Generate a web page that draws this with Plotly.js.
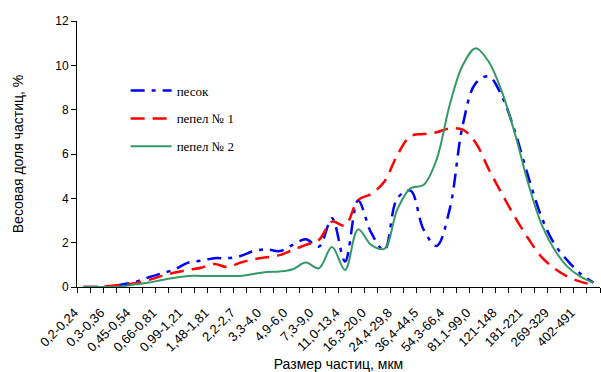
<!DOCTYPE html>
<html>
<head>
<meta charset="utf-8">
<script src="https://cdn.plot.ly/plotly-3.0.1.min.js"></script>
<style>html,body{margin:0;padding:0;background:#fff;}#chart{width:601px;height:372px;}</style>
</head>
<body>
<div id="chart"></div>
<script>
// size fractions, µm (40 categories)
const categories = [
  "0,2-0,24","0,24-0,3","0,3-0,36","0,36-0,45","0,45-0,54","0,54-0,66","0,66-0,81","0,81-0,99",
  "0,99-1,21","1,21-1,48","1,48-1,81","1,81-2,2","2,2-2,7","2,7-3,3","3,3-4,0","4,0-4,9",
  "4,9-6,0","6,0-7,3","7,3-9,0","9,0-11,0","11,0-13,4","13,4-16,3","16,3-20,0","20,0-24,4",
  "24,4-29,8","29,8-36,4","36,4-44,5","44,5-54,3","54,3-66,4","66,4-81,1","81,1-99,0","99-121",
  "121-148","148-181","181-221","221-269","269-329","329-402","402-491","491-600"
];
// weight fraction of particles, %
const sand = [0,0,0.03,0.12,0.24,0.44,0.62,0.8,1.1,1.19,1.3,1.3,1.4,1.62,1.7,1.62,1.9,2.15,1.82,3.1,
  1.15,3.9,2.45,1.65,4.0,4.35,2.6,1.85,3.5,7.3,9.2,9.5,8.6,7.0,5.0,3.2,1.95,1.2,0.6,0.2];
const ash1 = [0,0,0.05,0.1,0.18,0.32,0.5,0.65,0.77,0.87,1.04,0.9,1.1,1.25,1.34,1.44,1.67,1.9,2.12,2.95,
  2.78,3.92,4.2,4.75,5.95,6.8,6.9,6.98,7.15,7.1,6.5,5.3,4.2,3.15,2.2,1.37,0.84,0.47,0.24,0.09];
const ash2 = [0,0,0,0.03,0.12,0.2,0.32,0.42,0.5,0.5,0.5,0.5,0.5,0.59,0.68,0.7,0.8,1.1,0.84,1.8,
  0.77,2.6,1.9,1.72,3.5,4.45,4.6,5.75,8.2,10.0,10.77,10.15,8.8,6.9,4.7,2.87,1.7,0.92,0.47,0.2];
const seriesNames = ["песок","пепел № 1","пепел № 2"];
const yTicks = [0,2,4,6,8,10,12];

const idx = categories.map((c,i)=>i);
const labelIdx = idx.filter(i=>i%2===0);
const boundaries = idx.concat([categories.length]).map(i=>i-0.5);

function tr(y, name, color, width, dash, g){
  return {x: idx, y: y, name: name, type:'scatter', mode:'lines',
    line:{color:color, width:width, dash:dash, shape:'spline', smoothing:1},
    legendgroup:g, hoverinfo:'skip'};
}
const data = [
  tr(sand, seriesNames[0], '#0000FF', 2.5, '14px,7px,4px,7px', 'a'),
  tr(ash1, seriesNames[1], '#FF0000', 2.5, '14px,8px', 'b'),
  tr(ash2, seriesNames[2], '#339966', 2, 'solid', 'c')
];
const layout = {
  width:601, height:372,
  margin:{l:77, r:1, t:21, b:85},
  paper_bgcolor:'#fff', plot_bgcolor:'#fff',
  font:{family:'Liberation Sans, Arial, sans-serif', color:'#000', size:11},
  showlegend:true,
  legend:{x:0.093, y:0.795, xanchor:'left', yanchor:'top', bgcolor:'rgba(0,0,0,0)',
    font:{family:'Liberation Serif, Times New Roman, serif', size:13, color:'#000'},
    itemwidth:41, tracegroupgap:8, traceorder:'grouped'},
  xaxis:{range:[-0.5, categories.length-0.5], tickmode:'array', tickvals:labelIdx,
    ticktext:labelIdx.map(i=>categories[i]), tickangle:-45, ticks:'', showgrid:false,
    zeroline:false, showline:true, linecolor:'#000', linewidth:1,
    tickfont:{size:13, family:'Liberation Sans, Arial, sans-serif'},
    ticklabelstandoff:12, ticklabelshift:-9,
    minor:{tickmode:'array', tickvals:boundaries, ticks:'outside', ticklen:5, tickcolor:'#000', tickwidth:1, showgrid:false},
    title:{text:'Размер частиц, мкм', font:{size:14}, standoff:5}, automargin:false, fixedrange:true},
  yaxis:{range:[0,12], tickmode:'array', tickvals:yTicks, ticktext:yTicks.map(String),
    ticks:'outside', ticklen:5, tickcolor:'#000', showgrid:false, zeroline:false,
    showline:true, linecolor:'#000', linewidth:1, tickfont:{size:12},
    title:{text:'Весовая доля частиц, %', font:{size:14}, standoff:28}, automargin:false, fixedrange:true}
};
Plotly.newPlot('chart', data, layout, {staticPlot:true, displayModeBar:false});
</script>
</body>
</html>
